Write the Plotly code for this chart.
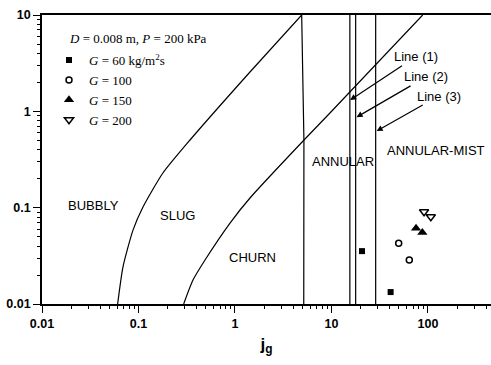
import numpy as np
import plotly.graph_objects as go

# Boundary curves (log-log map)
bubbly_slug_x = [0.0608, 0.069, 0.0877, 0.111, 0.179, 0.342, 1.43, 4.91]
bubbly_slug_y = [0.01, 0.0242, 0.0585, 0.101, 0.229, 0.504, 2.56, 10]

churn_annular_x = [4.91, 5.18, 5.16]
churn_annular_y = [10, 0.5, 0.01]

slug_churn_x = [0.294, 0.367, 0.489, 0.888, 1.43, 5.19, 9.64, 88.1]
slug_churn_y = [0.01, 0.0177, 0.0286, 0.0692, 0.126, 0.504, 0.96, 10]

# Vertical lines (1), (2), (3)
line_positions = [15.5, 17.8, 28.7]
line_y = [0.01, 10]

# Experimental data
g60_x, g60_y = [20.7, 41.0], [0.0354, 0.0133]
g100_x, g100_y = [49.7, 64.0], [0.0426, 0.0286]
g150_x, g150_y = [75.2, 87.4], [0.061, 0.0553]
g200_x, g200_y = [91.0, 107.0], [0.0907, 0.0805]

x_tickvals = [0.01, 0.1, 1, 10, 100]
x_ticktext = ["0.01", "0.1", "1", "10", "100"]
y_tickvals = [0.01, 0.1, 1, 10]
y_ticktext = ["0.01", "0.1", "1", "10"]
minor_x = [m * 10.0 ** k for k in range(-2, 3) for m in range(2, 10)]
minor_y = [m * 10.0 ** k for k in range(-2, 1) for m in range(2, 10)]

X_RANGE = [-2, 2.653]
Y_RANGE = [-2, 1]

fig = go.Figure()
line_style = dict(color="black", width=1.2)

# empty trace that makes the minor-tick axes pair exist
fig.add_trace(go.Scatter(x=[], y=[], xaxis="x2", yaxis="y2", showlegend=False,
                         hoverinfo="skip"))

fig.add_trace(go.Scatter(x=bubbly_slug_x, y=bubbly_slug_y, mode="lines",
                         line=dict(line_style, shape="spline", smoothing=0.6), showlegend=False))
fig.add_trace(go.Scatter(x=churn_annular_x, y=churn_annular_y, mode="lines",
                         line=line_style, showlegend=False))
fig.add_trace(go.Scatter(x=slug_churn_x, y=slug_churn_y, mode="lines",
                         line=dict(line_style, shape="spline", smoothing=0.6), showlegend=False))
for xp in line_positions:
    fig.add_trace(go.Scatter(x=[xp, xp], y=line_y, mode="lines",
                             line=line_style, showlegend=False))

fig.add_trace(go.Scatter(x=g60_x, y=g60_y, mode="markers",
                         marker=dict(symbol="square", size=6, color="black"),
                         name="<i>G</i> = 60 kg/m<sup>2</sup>s"))
fig.add_trace(go.Scatter(x=g100_x, y=g100_y, mode="markers",
                         marker=dict(symbol="circle-open", size=6, color="black",
                                     line=dict(width=1.5)),
                         name="<i>G</i> = 100"))
fig.add_trace(go.Scatter(x=g150_x, y=g150_y, mode="markers",
                         marker=dict(symbol="triangle-up", size=9, color="black"),
                         name="<i>G</i> = 150"))
fig.add_trace(go.Scatter(x=g200_x, y=g200_y, mode="markers",
                         marker=dict(symbol="triangle-down-open", size=8, color="black",
                                     line=dict(width=1.5)),
                         name="<i>G</i> = 200"))

region_font = dict(family="Liberation Sans, Arial", size=13, color="black")
regions = [
    ("BUBBLY", -1.4715, -0.973),
    ("SLUG", -0.591, -1.077),
    ("CHURN", 0.1865, -1.513),
    ("ANNULAR", 1.124, -0.523),
    ("ANNULAR-MIST", 2.083, -0.409),
]
for txt, lx, ly in regions:
    fig.add_annotation(x=lx, y=ly, text=txt, showarrow=False, font=region_font,
                       xanchor="center", yanchor="middle")

arrows = [
    ("Line (1)", 15.6, 1.31, 65.5, -43.3),
    ("Line (2)", 18.2, 0.87, 69.5, -40.3),
    ("Line (3)", 29.4, 0.625, 62, -35),
]
for txt, hx, hy, ax, ay in arrows:
    fig.add_annotation(x=np.log10(hx), y=np.log10(hy), text=txt, showarrow=True,
                       ax=ax, ay=ay, arrowhead=2, arrowsize=1, arrowwidth=1.2,
                       arrowcolor="black", font=region_font, standoff=0)

fig.add_annotation(xref="paper", yref="paper", x=0.0557, y=0.920,
                   text="<i>D</i> = 0.008 m, <i>P</i> = 200 kPa", showarrow=False,
                   xanchor="left", yanchor="middle",
                   font=dict(family="Liberation Serif, Times New Roman", size=13, color="black"))

axis_common = dict(
    showgrid=False, zeroline=False, showline=True, linecolor="black", linewidth=1.6,
    ticks="outside", ticklen=7, tickwidth=1.4, tickcolor="black",
    tickfont=dict(family="Liberation Sans, Arial", size=12.5, color="black", weight="bold"),
)
minor_common = dict(type="log", showgrid=False, zeroline=False, showline=False,
                    ticks="outside", ticklen=4, tickwidth=1.2, tickcolor="black",
                    showticklabels=False, tickmode="array")

fig.update_layout(
    width=491, height=365,
    margin=dict(l=42, r=0, t=15, b=61),
    paper_bgcolor="white", plot_bgcolor="white",
    xaxis=dict(axis_common, type="log", range=X_RANGE, tickmode="array",
               tickvals=x_tickvals, ticktext=x_ticktext, mirror=True,
               title=dict(text="j<sub>g</sub>", standoff=8,
                          font=dict(family="Liberation Sans, Arial", size=17,
                                    color="black", weight="bold"))),
    yaxis=dict(axis_common, type="log", range=Y_RANGE, tickmode="array",
               tickvals=y_tickvals, ticktext=y_ticktext),
    xaxis2=dict(minor_common, range=X_RANGE, tickvals=minor_x, overlaying="x",
                anchor="y2", side="bottom"),
    yaxis2=dict(minor_common, range=Y_RANGE, tickvals=minor_y, overlaying="y",
                anchor="x2", side="left"),
    legend=dict(x=0.0156, y=0.896, xanchor="left", yanchor="top",
                bgcolor="rgba(0,0,0,0)", tracegroupgap=0,
                font=dict(family="Liberation Serif, Times New Roman", size=13, color="black")),
    showlegend=True,
)

fig.write_html("out.html")
